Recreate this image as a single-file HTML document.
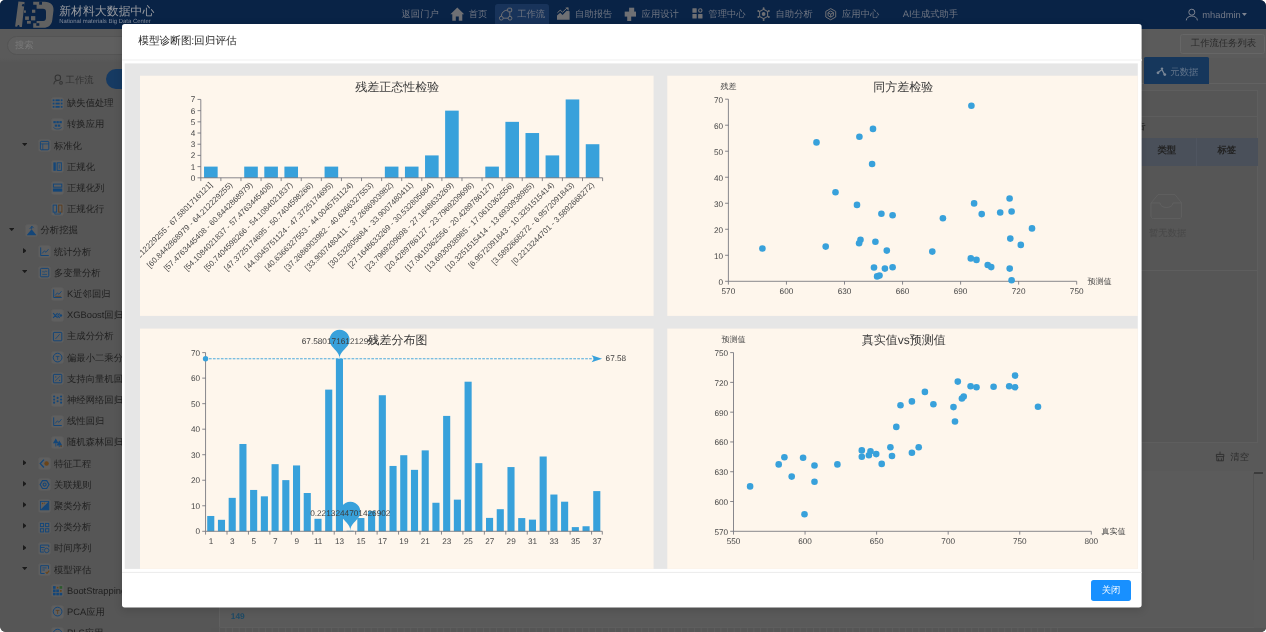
<!DOCTYPE html><html><head><meta charset="utf-8"><title>page</title><style>
html,body{margin:0;padding:0;background:#fff;}
body{width:1266px;height:632px;overflow:hidden;font-family:"Liberation Sans",sans-serif;text-rendering:geometricPrecision;}
#w{position:absolute;left:0;top:0;width:1266px;height:632px;overflow:hidden;border-radius:5px 6px 5px 6px;background:#595959;will-change:transform;}
.a{position:absolute;white-space:nowrap;}
.hd{position:absolute;left:0;top:0;width:1266px;height:28.8px;background:#092346;}
.nv{position:absolute;top:8px;height:13px;line-height:13px;font-size:9.33px;color:#6e7481;white-space:nowrap;}
.l0{letter-spacing:0;}
.tr{position:absolute;height:13px;line-height:13px;font-size:9.33px;color:#1f1f1f;white-space:nowrap;}
.ar{position:absolute;width:0;height:0;}
.ard{border-left:2.65px solid transparent;border-right:2.65px solid transparent;border-top:3.2px solid #1b1b1b;}
.arr{border-top:2.75px solid transparent;border-bottom:2.75px solid transparent;border-left:3.5px solid #1b1b1b;}
.ic{position:absolute;width:11.2px;height:11.2px;background:#5f5f5f;border-radius:1.5px;box-shadow:0 0 0 0.7px #5d5d5d;}
</style></head><body><div id="w">
<div class="hd"></div>
<svg class="a" style="left:0;top:0" width="60" height="29" viewBox="0 0 60 29">
<g fill="#616161">
<path d="M18.4 1.4 L24.6 2.1 L21.9 27 L19.6 26.9 C19.6 24.4 17.4 24.4 17.2 26.8 L15.1 26.6 Z"/>
<path fill-rule="evenodd" d="M33.2 1.7 H44.5 C51 1.7 54 5.6 53.5 10.5 L52.3 20 C51.6 25.4 48 27.8 43.6 27.8 H33.2 V23.2 H36.6 V20.9 H43.2 C45.2 20.9 46 19.6 46 17.5 V12 C46 9.8 45 8.8 43 8.8 H36.6 V4.7 H33.2 Z"/>
<rect x="23.9" y="10.4" width="2" height="2.4"/><rect x="25.1" y="16.4" width="3.8" height="3.5"/><rect x="27" y="20.9" width="3.8" height="2.8"/>
<rect x="32" y="9.7" width="3.3" height="3.1"/><rect x="31" y="16.1" width="4.3" height="4.3"/>
</g>
<rect x="39.2" y="1.7" width="2.8" height="3" fill="#092346"/><rect x="36.3" y="23.2" width="3" height="2.6" fill="#092346"/>
<circle cx="23.3" cy="5.2" r="1.3" fill="#092346"/>
</svg>
<div class="a" style="left:59.2px;top:4px;font-size:11.9px;line-height:15px;color:#999ba0;">新材料大数据中心</div>
<div class="a" style="left:59.3px;top:18.6px;font-size:5.95px;line-height:7px;color:#828b9b;">National materials Big Data Center</div>
<div class="nv" style="left:401.5px">返回门户</div>
<div class="nv" style="left:468.7px">首页</div>
<div class="a" style="left:495.4px;top:4.3px;width:53.4px;height:26px;border-radius:2.7px;background:#18335a;"></div>
<div class="nv" style="left:517.2px">工作流</div>
<div class="nv" style="left:575.1px">自助报告</div>
<div class="nv" style="left:641.6px">应用设计</div>
<div class="nv" style="left:708.3px">管理中心</div>
<div class="nv" style="left:775.5px">自助分析</div>
<div class="nv" style="left:842px">应用中心</div>
<div class="nv" style="left:902.7px"><span class="l0">AI</span>生成式助手</div>
<div class="nv" style="left:1202.3px;top:8.6px;color:#737987;letter-spacing:0">mhadmin</div>
<svg class="a" style="left:0;top:0" width="1266" height="29" viewBox="0 0 1266 29" fill="none" stroke="none">
<path d="M450.4 14.2 L457.3 7.6 L464.2 14.2 L462.3 14.2 L462.3 20.7 L458.8 20.7 L458.8 16.4 L455.8 16.4 L455.8 20.7 L452.3 20.7 L452.3 14.2 Z" fill="#6f7074"/>
<g stroke="#6f7074" stroke-width="1" fill="none"><rect x="507.7" y="8.2" width="4" height="3.6" rx="0.8"/><circle cx="501.3" cy="18.2" r="1.9"/><circle cx="510" cy="18.2" r="1.9"/><path d="M501.3 16.3 C501.5 12.5 504 10.2 507.7 10"/><path d="M503.2 18.2 H508.1 M509.8 11.8 V16.3"/></g>
<path d="M557 19.7 V15.6 L560.2 12.8 L562.6 15 L566.6 10.8 L569.6 11.2 V19.7 Z" fill="#6f7074"/><path d="M557.4 12.8 L560.2 10.2 L562.6 12.2 L567.4 7.6" stroke="#6f7074" stroke-width="1" fill="none"/><path d="M565.4 7.6 H568.6 V10.8 Z" fill="#6f7074"/>
<g fill="#6f7074"><rect x="629.1" y="7.7" width="5.1" height="4.6"/><rect x="624.7" y="11.6" width="11.3" height="5"/><rect x="627.2" y="16" width="4" height="5"/></g>
<g fill="#6f7074"><rect x="692.4" y="8.3" width="4.3" height="4.5" rx="0.5"/><rect x="692.4" y="14.1" width="4.3" height="4.4" rx="0.5"/><rect x="698.1" y="14.1" width="4.4" height="4.4" rx="0.5"/></g><circle cx="700.3" cy="10.5" r="1.7" fill="none" stroke="#6f7074" stroke-width="1.1"/>
<g stroke="#6f7074" stroke-width="1.1" fill="none"><path d="M763.6 9.3 L767.6 11.6 V16.4 L763.6 18.7 L759.6 16.4 V11.6 Z"/></g><circle cx="763.6" cy="14" r="1.9" fill="#6f7074"/><circle cx="763.6" cy="8.2" r="1" fill="#6f7074"/><circle cx="763.6" cy="19.9" r="1" fill="#6f7074"/><circle cx="758.4" cy="11" r="1" fill="#6f7074"/><circle cx="768.8" cy="11" r="1" fill="#6f7074"/><circle cx="758.4" cy="17" r="1" fill="#6f7074"/><circle cx="768.8" cy="17" r="1" fill="#6f7074"/>
<g stroke="#6f7074" stroke-width="1" fill="none"><path d="M830.7 8.6 L835.7 11.4 V17 L830.7 19.8 L825.8 17 V11.4 Z"/><path d="M830.7 11 L833.4 12.6 V15.6 L830.7 17.2 L828 15.6 V12.6 Z M830.7 14.2 V17.2 M828 12.6 L830.7 14.2 L833.4 12.6"/></g>
<g stroke="#7d8390" stroke-width="1" fill="none"><circle cx="1191.8" cy="12.2" r="3"/><path d="M1186.3 20.4 C1186.6 14.6 1197 14.6 1197.4 20.4"/></g>
<path d="M1241.9 12.9 H1246.9 L1244.4 16 Z" fill="#7d8390"/>
</svg>
<div class="a" style="left:0;top:28.8px;width:211px;height:31.2px;background:#5a5a5a;"></div>
<div class="a" style="left:7px;top:35.6px;width:160px;height:19px;border-radius:9.5px;background:#5f5f5f;border:0.8px solid #545454;box-sizing:border-box"></div>
<div class="a" style="left:15px;top:38.6px;font-size:9.33px;line-height:13px;color:#7b7b7b;">搜索</div>
<div class="a" style="left:0;top:58px;width:211px;height:36.6px;background:linear-gradient(#5a5a5a 0,#565656 4.5px);box-sizing:border-box"></div>
<div class="a" style="left:0;top:94.6px;width:210.8px;height:540px;background:#565656;border-right:1px solid #5c5c5c"></div>
<div class="a" style="left:65.6px;top:73.6px;font-size:9.33px;line-height:13px;color:#323232;">工作流</div>
<svg class="a" style="left:53.4px;top:73.8px" width="11.6" height="11.6" viewBox="0 0 11 11" fill="none" stroke="#343434" stroke-width="1"><circle cx="4.6" cy="3.6" r="2.6"/><path d="M0.8 9.8 C1 6.6 3.6 6.2 4.6 6.2"/><circle cx="7.6" cy="8.4" r="1.3"/></svg>
<div class="a" style="left:105.8px;top:68.7px;width:60px;height:20.2px;border-radius:10.1px;background:#163a62;"></div>
<div class="tr" style="left:67.0px;top:97.1px">缺失值处理</div>
<svg class="ic" style="left:52.1px;top:97.5px" viewBox="0 0 16 16" fill="none" stroke="#134679" stroke-width="1.4"><g fill="#134679" stroke="none"><rect x="1" y="2" width="2.5" height="2.5"/><rect x="5" y="2" width="6" height="2.5"/><rect x="12.5" y="2" width="2.5" height="2.5"/><rect x="1" y="6.7" width="2.5" height="2.5"/><rect x="5" y="6.7" width="6" height="2.5"/><rect x="12.5" y="6.7" width="2.5" height="2.5"/><rect x="1" y="11.4" width="2.5" height="2.5"/><rect x="5" y="11.4" width="6" height="2.5"/><rect x="12.5" y="11.4" width="2.5" height="2.5"/></g></svg>
<div class="tr" style="left:67.0px;top:118.3px">转换应用</div>
<svg class="ic" style="left:52.1px;top:118.7px" viewBox="0 0 16 16" fill="none" stroke="#134679" stroke-width="1.4"><g fill="#134679" stroke="none"><rect x="2" y="3" width="3.4" height="3"/><rect x="6.3" y="3" width="3.4" height="3"/><rect x="10.6" y="3" width="3.4" height="3"/><rect x="4" y="8" width="3.4" height="3"/><rect x="8.4" y="8" width="3.4" height="3"/></g><path d="M2 12 C5 15 11 15 14 12" stroke-width="1.1"/></svg>
<div class="tr" style="left:53.9px;top:139.51px">标准化</div>
<svg class="ic" style="left:38.8px;top:139.91px" viewBox="0 0 16 16" fill="none" stroke="#134679" stroke-width="1.4"><rect x="2" y="2" width="12" height="12" rx="1.2"/><path d="M2 5.6 H14 M5.4 5.6 V14" stroke-width="1.1"/></svg>
<svg class="a" style="left:22.0px;top:142.91px" width="5.4" height="3.2" viewBox="0 0 5.4 3.2"><path d="M0 0 H5.4 L2.7 3.2 Z" fill="#1b1b1b"/></svg>
<div class="tr" style="left:67.0px;top:160.71px">正规化</div>
<svg class="ic" style="left:52.1px;top:161.11px" viewBox="0 0 16 16" fill="none" stroke="#134679" stroke-width="1.4"><rect x="2" y="2" width="3.4" height="12" fill="#134679" stroke="none"/><rect x="7.4" y="2.6" width="6" height="10.8"/><path d="M10.4 5 V11" stroke-width="1.1"/></svg>
<div class="tr" style="left:67.0px;top:181.92px">正规化列</div>
<svg class="ic" style="left:52.1px;top:182.32px" viewBox="0 0 16 16" fill="none" stroke="#134679" stroke-width="1.4"><rect x="2" y="3" width="12" height="4.4"/><rect x="2" y="10" width="12" height="3" fill="#134679"/></svg>
<div class="tr" style="left:67.0px;top:203.12px">正规化行</div>
<svg class="ic" style="left:52.1px;top:203.52px" viewBox="0 0 16 16" fill="none" stroke="#134679" stroke-width="1.4"><rect x="1.6" y="1.6" width="5" height="10"/><rect x="9.6" y="1.6" width="4.6" height="10" stroke="#5c3d1e"/><path d="M4 11.6 V14.4 H12 V11.6" stroke-width="1.1"/></svg>
<div class="tr" style="left:40.5px;top:224.32px">分析挖掘</div>
<svg class="ic" style="left:25.5px;top:224.72px" viewBox="0 0 16 16" fill="none" stroke="#134679" stroke-width="1.4"><path d="M8 6 L15 14.6 H1 Z" fill="#134679" stroke="none"/><path d="M5.4 5.6 L8.4 1.8 L10.8 4.4 M8.4 1.8 L8 6" stroke-width="1.3"/></svg>
<svg class="a" style="left:8.7px;top:227.72px" width="5.4" height="3.2" viewBox="0 0 5.4 3.2"><path d="M0 0 H5.4 L2.7 3.2 Z" fill="#1b1b1b"/></svg>
<div class="tr" style="left:53.9px;top:245.53px">统计分析</div>
<svg class="ic" style="left:38.8px;top:245.93px" viewBox="0 0 16 16" fill="none" stroke="#134679" stroke-width="1.4"><path d="M2.4 2 V13.6 H14"/><path d="M4.6 10.6 L7.6 7 L10 9 L13.6 4.6" stroke-width="1.2"/></svg>
<svg class="a" style="left:22.8px;top:247.73px" width="3.6" height="5.6" viewBox="0 0 3.6 5.6"><path d="M0 0 V5.6 L3.6 2.8 Z" fill="#1b1b1b"/></svg>
<div class="tr" style="left:53.9px;top:266.73px">多变量分析</div>
<svg class="ic" style="left:38.8px;top:267.13px" viewBox="0 0 16 16" fill="none" stroke="#134679" stroke-width="1.4"><rect x="2" y="2" width="12" height="12" rx="1.4"/><path d="M4.6 7 C6 5.4 7 8.4 8.4 6.8 S10.4 5.6 11.6 7 M4.6 10.6 H11.4" stroke-width="1.1"/></svg>
<svg class="a" style="left:22.0px;top:270.13px" width="5.4" height="3.2" viewBox="0 0 5.4 3.2"><path d="M0 0 H5.4 L2.7 3.2 Z" fill="#1b1b1b"/></svg>
<div class="tr" style="left:67.0px;top:287.94px"><span class="l0">K</span>近邻回归</div>
<svg class="ic" style="left:52.1px;top:288.34px" viewBox="0 0 16 16" fill="none" stroke="#134679" stroke-width="1.4"><path d="M2.4 2 V13.6 H14"/><path d="M4.6 10.6 L7.6 7 L10 9 L13.6 4.6" stroke-width="1.2"/><path d="M4.6 12 L13 12" stroke="#5c3d1e" stroke-width="1"/></svg>
<div class="tr" style="left:67.0px;top:309.14px"><span class="l0">XGBoost</span>回归</div>
<svg class="ic" style="left:52.1px;top:309.54px" viewBox="0 0 16 16" fill="none" stroke="#134679" stroke-width="1.4"><path d="M1.6 4.6 L8 11.4 M1.6 11.4 L8 4.6 M8 8 L11 4.8 M8 8 L11 11.2" stroke-width="1.5"/><circle cx="12.6" cy="8" r="1.8" fill="#134679" stroke="none"/></svg>
<div class="tr" style="left:67.0px;top:330.34px">主成分分析</div>
<svg class="ic" style="left:52.1px;top:330.74px" viewBox="0 0 16 16" fill="none" stroke="#134679" stroke-width="1.4"><rect x="2" y="2" width="12" height="12" rx="1"/><path d="M5 11.4 L11 4.6" stroke-width="1.2"/></svg>
<div class="tr" style="left:67.0px;top:351.55px">偏最小二乘分析</div>
<svg class="ic" style="left:52.1px;top:351.95px" viewBox="0 0 16 16" fill="none" stroke="#134679" stroke-width="1.4"><circle cx="8" cy="8" r="6.2"/><path d="M5.4 6.4 H10.6 M8 6.4 V11.4" stroke-width="1.1"/></svg>
<div class="tr" style="left:67.0px;top:372.75px">支持向量机回归</div>
<svg class="ic" style="left:52.1px;top:373.15px" viewBox="0 0 16 16" fill="none" stroke="#134679" stroke-width="1.4"><rect x="2" y="2" width="12" height="12" rx="1"/><path d="M4.4 11.6 L11.6 4.4" stroke-width="1"/><circle cx="5.4" cy="5.6" r="0.9" fill="#134679" stroke="none"/><circle cx="10.8" cy="10.6" r="0.9" fill="#134679" stroke="none"/></svg>
<div class="tr" style="left:67.0px;top:393.96px">神经网络回归</div>
<svg class="ic" style="left:52.1px;top:394.36px" viewBox="0 0 16 16" fill="none" stroke="#134679" stroke-width="1.4"><g fill="#134679" stroke="none"><circle cx="3" cy="3.6" r="1.5"/><circle cx="3" cy="8" r="1.5"/><circle cx="3" cy="12.4" r="1.5"/><circle cx="8" cy="5.6" r="1.5"/><circle cx="8" cy="10.4" r="1.5"/><circle cx="13" cy="3.6" r="1.5"/><circle cx="13" cy="8" r="1.5"/><circle cx="13" cy="12.4" r="1.5"/></g></svg>
<div class="tr" style="left:67.0px;top:415.16px">线性回归</div>
<svg class="ic" style="left:52.1px;top:415.56px" viewBox="0 0 16 16" fill="none" stroke="#134679" stroke-width="1.4"><path d="M2.4 2 V13.6 H14"/><path d="M4.6 10.6 L7.6 7 L10 9 L13.6 4.6" stroke-width="1.2"/></svg>
<div class="tr" style="left:67.0px;top:436.36px">随机森林回归</div>
<svg class="ic" style="left:52.1px;top:436.76px" viewBox="0 0 16 16" fill="none" stroke="#134679" stroke-width="1.4"><path d="M5.4 2 L9.4 9 H1.4 Z M10.4 5 L14.6 12 H6.6 Z" fill="#134679" stroke="none"/><path d="M5.4 9 V13.6 M10.4 12 V14.4" stroke-width="1.2"/><circle cx="13" cy="13" r="1.2" fill="#5c3d1e" stroke="none"/></svg>
<div class="tr" style="left:53.9px;top:457.57px">特征工程</div>
<svg class="ic" style="left:38.8px;top:457.97px" viewBox="0 0 16 16" fill="none" stroke="#134679" stroke-width="1.4"><path d="M7 2.4 L1.8 8 L7 13.6" stroke-width="1.8"/><circle cx="10.8" cy="8" r="3.2" fill="#6a4418" stroke="none"/></svg>
<svg class="a" style="left:22.8px;top:459.77px" width="3.6" height="5.6" viewBox="0 0 3.6 5.6"><path d="M0 0 V5.6 L3.6 2.8 Z" fill="#1b1b1b"/></svg>
<div class="tr" style="left:53.9px;top:478.77px">关联规则</div>
<svg class="ic" style="left:38.8px;top:479.17px" viewBox="0 0 16 16" fill="none" stroke="#134679" stroke-width="1.4"><circle cx="8" cy="8" r="2.2" stroke-width="1.6"/><path d="M5 2.4 H11 L14.4 8 L11 13.6 H5 L1.6 8 Z" stroke-width="1.6"/></svg>
<svg class="a" style="left:22.8px;top:480.97px" width="3.6" height="5.6" viewBox="0 0 3.6 5.6"><path d="M0 0 V5.6 L3.6 2.8 Z" fill="#1b1b1b"/></svg>
<div class="tr" style="left:53.9px;top:499.98px">聚类分析</div>
<svg class="ic" style="left:38.8px;top:500.38px" viewBox="0 0 16 16" fill="none" stroke="#134679" stroke-width="1.4"><rect x="2" y="2" width="12" height="12" stroke-width="1.3"/><path d="M14 2 V14 H2 Z" fill="#134679" stroke="none"/><circle cx="5.2" cy="5" r="1" fill="#6a4418" stroke="none"/><circle cx="8" cy="4.4" r="0.8" fill="#6a4418" stroke="none"/></svg>
<svg class="a" style="left:22.8px;top:502.18px" width="3.6" height="5.6" viewBox="0 0 3.6 5.6"><path d="M0 0 V5.6 L3.6 2.8 Z" fill="#1b1b1b"/></svg>
<div class="tr" style="left:53.9px;top:521.18px">分类分析</div>
<svg class="ic" style="left:38.8px;top:521.58px" viewBox="0 0 16 16" fill="none" stroke="#134679" stroke-width="1.4"><rect x="2" y="2" width="4.6" height="4.6"/><rect x="9.4" y="2" width="4.6" height="4.6"/><rect x="2" y="9.6" width="4.6" height="4.6"/><rect x="9.4" y="9.6" width="4.6" height="4.6"/></svg>
<svg class="a" style="left:22.8px;top:523.38px" width="3.6" height="5.6" viewBox="0 0 3.6 5.6"><path d="M0 0 V5.6 L3.6 2.8 Z" fill="#1b1b1b"/></svg>
<div class="tr" style="left:53.9px;top:542.38px">时间序列</div>
<svg class="ic" style="left:38.8px;top:542.78px" viewBox="0 0 16 16" fill="none" stroke="#134679" stroke-width="1.4"><path d="M2 3 H14 V6 M2 3 V13 H7 M2 6.4 H8"/><circle cx="11" cy="10.6" r="3.2" stroke-width="1.2"/><path d="M4 9.6 H6.6" stroke-width="1.1"/></svg>
<svg class="a" style="left:22.8px;top:544.58px" width="3.6" height="5.6" viewBox="0 0 3.6 5.6"><path d="M0 0 V5.6 L3.6 2.8 Z" fill="#1b1b1b"/></svg>
<div class="tr" style="left:53.9px;top:563.59px">模型评估</div>
<svg class="ic" style="left:38.8px;top:563.99px" viewBox="0 0 16 16" fill="none" stroke="#134679" stroke-width="1.4"><path d="M13.6 7 V2.4 H2.4 V13.6 H8"/><path d="M4.8 5.6 H11 M4.8 8.6 H8.4" stroke-width="1.2"/><path d="M9.6 11.6 L11.4 13.4 L14.6 9.6" stroke="#6a4418" stroke-width="1.5"/></svg>
<svg class="a" style="left:22.0px;top:566.99px" width="5.4" height="3.2" viewBox="0 0 5.4 3.2"><path d="M0 0 H5.4 L2.7 3.2 Z" fill="#1b1b1b"/></svg>
<div class="tr" style="left:67.0px;top:584.79px"><span class="l0">BootStrapping</span></div>
<svg class="ic" style="left:52.1px;top:585.19px" viewBox="0 0 16 16" fill="none" stroke="#134679" stroke-width="1.4"><g stroke="none"><rect x="1.4" y="1.6" width="3.8" height="3.8" fill="#134679"/><rect x="6.8" y="2.6" width="2.4" height="2.4" fill="#6a4418"/><rect x="10.8" y="1.6" width="3.8" height="3.8" fill="#2c5a2c"/><rect x="1.4" y="6.4" width="3.8" height="3.8" fill="#134679"/><rect x="6.1" y="6.4" width="3.8" height="3.8" fill="#134679"/><rect x="11.4" y="7.2" width="2.4" height="2.4" fill="#6a4418"/><rect x="1.4" y="11.2" width="3.8" height="3.6" fill="#134679"/><rect x="6.1" y="11.2" width="3.8" height="3.6" fill="#134679"/><rect x="10.8" y="11.2" width="3.8" height="3.6" fill="#134679"/></g></svg>
<div class="tr" style="left:67.0px;top:606.0px"><span class="l0">PCA</span>应用</div>
<svg class="ic" style="left:52.1px;top:606.4px" viewBox="0 0 16 16" fill="none" stroke="#134679" stroke-width="1.4"><circle cx="8" cy="8" r="6.2"/><path d="M5.4 6.4 H10.6 M8 6.4 V11.4" stroke-width="1.1" stroke="#5c3d1e"/></svg>
<div class="tr" style="left:67.0px;top:627.2px"><span class="l0">PLS</span>应用</div>
<svg class="ic" style="left:52.1px;top:627.6px" viewBox="0 0 16 16" fill="none" stroke="#134679" stroke-width="1.4"><circle cx="8" cy="8" r="6.2"/><path d="M5.4 6.4 H10.6 M8 6.4 V11.4" stroke-width="1.1"/></svg>
<div class="a" style="left:211px;top:28.8px;width:1055px;height:28.8px;background:#5b5b5b;"></div>
<div class="a" style="left:1180.4px;top:34.2px;width:84.4px;height:19.4px;border:0.8px solid #666;border-radius:2.6px;box-sizing:border-box;background:#5c5c5c;"></div>
<div class="a" style="left:1190.8px;top:37.4px;font-size:9.33px;line-height:13px;color:#2a2a2a;">工作流任务列表</div>
<div class="a" style="left:1140px;top:83px;width:126px;height:0.8px;background:#626262;"></div>
<div class="a" style="left:1144.2px;top:57.3px;width:64.9px;height:26.4px;border-radius:1.6px 1.6px 0 0;background:#16375c;"></div>
<div class="a" style="left:1170.3px;top:65.6px;font-size:9.33px;line-height:13px;color:#64768c;">元数据</div>
<svg class="a" style="left:1155.5px;top:66px" width="12" height="11" viewBox="0 0 12 11"><g fill="#7a8797" stroke="#7a8797" stroke-width="1.2"><path d="M2 6.6 L6 3.6 L8.6 8.6" fill="none"/><circle cx="6" cy="2.6" r="1.2" stroke="none"/><circle cx="2" cy="6.8" r="1.4" stroke="none"/><circle cx="8.8" cy="8.6" r="1.4" stroke="none"/></g></svg>
<div class="a" style="left:1130px;top:90.3px;width:127.7px;height:352.8px;border:0.8px solid #5e5e5e;box-sizing:border-box;background:#565656;"></div>
<div class="a" style="left:1130px;top:116.4px;width:127.7px;height:0.8px;background:#5d5d5d;"></div>
<div class="a" style="left:1130px;top:137.7px;width:127.7px;height:27.9px;background:#4a505a;"></div>
<div class="a" style="left:1195.9px;top:137.7px;width:0.8px;height:27.9px;background:#4f5560;"></div>
<div class="a" style="left:1136.8px;top:144.2px;width:60px;text-align:center;font-size:9.33px;font-weight:bold;line-height:13px;color:#232323;">类型</div>
<div class="a" style="left:1196.8px;top:144.2px;width:60px;text-align:center;font-size:9.33px;font-weight:bold;line-height:13px;color:#232323;">标签</div>
<div class="a" style="left:1130px;top:269.5px;width:127.7px;height:0.8px;background:#5e5e5e;"></div>
<svg class="a" style="left:1150px;top:193px" width="33" height="27" viewBox="0 0 33 27" fill="none" stroke="#626262" stroke-width="0.8"><path d="M1 10 L8 1.6 H25 L31.6 10 V23 C31.6 24.6 30.6 25.6 29 25.6 H3.6 C2 25.6 1 24.6 1 23 Z"/><path d="M1 10 H10 C10 16 23 16 23 10 H31.6"/></svg>
<div class="a" style="left:1149px;top:226.6px;font-size:9.33px;line-height:13px;color:#474747;">暂无数据</div>
<div class="a" style="left:1127px;top:120.2px;font-size:9.2px;font-weight:bold;line-height:13px;color:#2a2a2a;">报告</div>
<div class="a" style="left:1230.3px;top:450.6px;font-size:9.33px;line-height:13px;color:#2d2d2d;">清空</div>
<svg class="a" style="left:1215px;top:451px" width="11" height="11" viewBox="0 0 11 11" fill="none" stroke="#2d2d2d" stroke-width="0.9"><path d="M5 0.6 V3.4 M1.4 3.4 H8.8 V5.6 H1.4 Z M1.8 5.6 V9.8 H8.4 V5.6 M3.6 7.4 V9.8 M6.4 7.4 V9.8"/></svg>
<div class="a" style="left:211px;top:470.6px;width:1055px;height:162px;background:#5b5b5b;"></div>
<div class="a" style="left:1253.7px;top:472.4px;width:9.2px;height:1.4px;background:#3c3c3c;"></div>
<div class="a" style="left:1253.4px;top:473px;width:0.8px;height:150px;background:#535353;"></div>
<div class="a" style="left:211px;top:94px;width:8px;height:540px;background:#565656;"></div>
<div class="a" style="left:219px;top:560px;width:1034.6px;height:67.8px;border-left:0.8px solid #606060;border-bottom:0.8px solid #5e5e5e;border-radius:0 0 0 2.6px;box-sizing:border-box;background:#5a5a5a;"></div>
<div class="a" style="left:230.8px;top:609.8px;font-size:8.4px;font-weight:bold;line-height:13px;color:#1d4a66;">149</div>
<div class="a" style="left:211px;top:628px;width:1055px;height:4px;background:#555;"></div>
<svg class="a" style="left:0;top:628.4px" width="1266" height="4"><rect x="219.0" y="0" width="0.7" height="4" fill="#616161"/><rect x="225.6" y="0" width="0.7" height="4" fill="#616161"/><rect x="232.2" y="0" width="0.7" height="4" fill="#616161"/><rect x="238.8" y="0" width="0.7" height="4" fill="#616161"/><rect x="245.4" y="0" width="0.7" height="4" fill="#616161"/><rect x="252.0" y="0" width="0.7" height="4" fill="#616161"/><rect x="258.6" y="0" width="0.7" height="4" fill="#616161"/><rect x="265.2" y="0" width="0.7" height="4" fill="#616161"/><rect x="271.8" y="0" width="0.7" height="4" fill="#616161"/><rect x="278.4" y="0" width="0.7" height="4" fill="#616161"/><rect x="285.0" y="0" width="0.7" height="4" fill="#616161"/><rect x="291.6" y="0" width="0.7" height="4" fill="#616161"/><rect x="298.2" y="0" width="0.7" height="4" fill="#616161"/><rect x="304.8" y="0" width="0.7" height="4" fill="#616161"/><rect x="311.4" y="0" width="0.7" height="4" fill="#616161"/><rect x="318.0" y="0" width="0.7" height="4" fill="#616161"/><rect x="324.6" y="0" width="0.7" height="4" fill="#616161"/><rect x="331.2" y="0" width="0.7" height="4" fill="#616161"/><rect x="337.8" y="0" width="0.7" height="4" fill="#616161"/><rect x="344.4" y="0" width="0.7" height="4" fill="#616161"/><rect x="351.0" y="0" width="0.7" height="4" fill="#616161"/><rect x="357.6" y="0" width="0.7" height="4" fill="#616161"/><rect x="364.2" y="0" width="0.7" height="4" fill="#616161"/><rect x="370.8" y="0" width="0.7" height="4" fill="#616161"/><rect x="377.4" y="0" width="0.7" height="4" fill="#616161"/><rect x="384.0" y="0" width="0.7" height="4" fill="#616161"/><rect x="390.6" y="0" width="0.7" height="4" fill="#616161"/><rect x="397.2" y="0" width="0.7" height="4" fill="#616161"/><rect x="403.8" y="0" width="0.7" height="4" fill="#616161"/><rect x="410.4" y="0" width="0.7" height="4" fill="#616161"/><rect x="417.0" y="0" width="0.7" height="4" fill="#616161"/><rect x="423.6" y="0" width="0.7" height="4" fill="#616161"/><rect x="430.2" y="0" width="0.7" height="4" fill="#616161"/><rect x="436.8" y="0" width="0.7" height="4" fill="#616161"/><rect x="443.4" y="0" width="0.7" height="4" fill="#616161"/><rect x="450.0" y="0" width="0.7" height="4" fill="#616161"/><rect x="456.6" y="0" width="0.7" height="4" fill="#616161"/><rect x="463.2" y="0" width="0.7" height="4" fill="#616161"/><rect x="469.8" y="0" width="0.7" height="4" fill="#616161"/><rect x="476.4" y="0" width="0.7" height="4" fill="#616161"/><rect x="483.0" y="0" width="0.7" height="4" fill="#616161"/><rect x="489.6" y="0" width="0.7" height="4" fill="#616161"/><rect x="496.2" y="0" width="0.7" height="4" fill="#616161"/><rect x="502.8" y="0" width="0.7" height="4" fill="#616161"/><rect x="509.4" y="0" width="0.7" height="4" fill="#616161"/><rect x="516.0" y="0" width="0.7" height="4" fill="#616161"/><rect x="522.6" y="0" width="0.7" height="4" fill="#616161"/><rect x="529.2" y="0" width="0.7" height="4" fill="#616161"/><rect x="535.8" y="0" width="0.7" height="4" fill="#616161"/><rect x="542.4" y="0" width="0.7" height="4" fill="#616161"/><rect x="549.0" y="0" width="0.7" height="4" fill="#616161"/><rect x="555.6" y="0" width="0.7" height="4" fill="#616161"/><rect x="562.2" y="0" width="0.7" height="4" fill="#616161"/><rect x="568.8" y="0" width="0.7" height="4" fill="#616161"/><rect x="575.4" y="0" width="0.7" height="4" fill="#616161"/><rect x="582.0" y="0" width="0.7" height="4" fill="#616161"/><rect x="588.6" y="0" width="0.7" height="4" fill="#616161"/><rect x="595.2" y="0" width="0.7" height="4" fill="#616161"/><rect x="601.8" y="0" width="0.7" height="4" fill="#616161"/><rect x="608.4" y="0" width="0.7" height="4" fill="#616161"/><rect x="615.0" y="0" width="0.7" height="4" fill="#616161"/><rect x="621.6" y="0" width="0.7" height="4" fill="#616161"/><rect x="628.2" y="0" width="0.7" height="4" fill="#616161"/><rect x="634.8" y="0" width="0.7" height="4" fill="#616161"/><rect x="641.4" y="0" width="0.7" height="4" fill="#616161"/><rect x="648.0" y="0" width="0.7" height="4" fill="#616161"/><rect x="654.6" y="0" width="0.7" height="4" fill="#616161"/><rect x="661.2" y="0" width="0.7" height="4" fill="#616161"/><rect x="667.8" y="0" width="0.7" height="4" fill="#616161"/><rect x="674.4" y="0" width="0.7" height="4" fill="#616161"/><rect x="681.0" y="0" width="0.7" height="4" fill="#616161"/><rect x="687.6" y="0" width="0.7" height="4" fill="#616161"/><rect x="694.2" y="0" width="0.7" height="4" fill="#616161"/><rect x="700.8" y="0" width="0.7" height="4" fill="#616161"/><rect x="707.4" y="0" width="0.7" height="4" fill="#616161"/><rect x="714.0" y="0" width="0.7" height="4" fill="#616161"/><rect x="720.6" y="0" width="0.7" height="4" fill="#616161"/><rect x="727.2" y="0" width="0.7" height="4" fill="#616161"/><rect x="733.8" y="0" width="0.7" height="4" fill="#616161"/><rect x="740.4" y="0" width="0.7" height="4" fill="#616161"/><rect x="747.0" y="0" width="0.7" height="4" fill="#616161"/><rect x="753.6" y="0" width="0.7" height="4" fill="#616161"/><rect x="760.2" y="0" width="0.7" height="4" fill="#616161"/><rect x="766.8" y="0" width="0.7" height="4" fill="#616161"/><rect x="773.4" y="0" width="0.7" height="4" fill="#616161"/><rect x="780.0" y="0" width="0.7" height="4" fill="#616161"/><rect x="786.6" y="0" width="0.7" height="4" fill="#616161"/><rect x="793.2" y="0" width="0.7" height="4" fill="#616161"/><rect x="799.8" y="0" width="0.7" height="4" fill="#616161"/><rect x="806.4" y="0" width="0.7" height="4" fill="#616161"/><rect x="813.0" y="0" width="0.7" height="4" fill="#616161"/><rect x="819.6" y="0" width="0.7" height="4" fill="#616161"/><rect x="826.2" y="0" width="0.7" height="4" fill="#616161"/><rect x="832.8" y="0" width="0.7" height="4" fill="#616161"/><rect x="839.4" y="0" width="0.7" height="4" fill="#616161"/><rect x="846.0" y="0" width="0.7" height="4" fill="#616161"/><rect x="852.6" y="0" width="0.7" height="4" fill="#616161"/><rect x="859.2" y="0" width="0.7" height="4" fill="#616161"/><rect x="865.8" y="0" width="0.7" height="4" fill="#616161"/><rect x="872.4" y="0" width="0.7" height="4" fill="#616161"/><rect x="879.0" y="0" width="0.7" height="4" fill="#616161"/><rect x="885.6" y="0" width="0.7" height="4" fill="#616161"/><rect x="892.2" y="0" width="0.7" height="4" fill="#616161"/><rect x="898.8" y="0" width="0.7" height="4" fill="#616161"/><rect x="905.4" y="0" width="0.7" height="4" fill="#616161"/><rect x="912.0" y="0" width="0.7" height="4" fill="#616161"/><rect x="918.6" y="0" width="0.7" height="4" fill="#616161"/><rect x="925.2" y="0" width="0.7" height="4" fill="#616161"/><rect x="931.8" y="0" width="0.7" height="4" fill="#616161"/><rect x="938.4" y="0" width="0.7" height="4" fill="#616161"/><rect x="945.0" y="0" width="0.7" height="4" fill="#616161"/><rect x="951.6" y="0" width="0.7" height="4" fill="#616161"/><rect x="958.2" y="0" width="0.7" height="4" fill="#616161"/><rect x="964.8" y="0" width="0.7" height="4" fill="#616161"/><rect x="971.4" y="0" width="0.7" height="4" fill="#616161"/><rect x="978.0" y="0" width="0.7" height="4" fill="#616161"/><rect x="984.6" y="0" width="0.7" height="4" fill="#616161"/><rect x="991.2" y="0" width="0.7" height="4" fill="#616161"/><rect x="997.8" y="0" width="0.7" height="4" fill="#616161"/><rect x="1004.4" y="0" width="0.7" height="4" fill="#616161"/><rect x="1011.0" y="0" width="0.7" height="4" fill="#616161"/><rect x="1017.6" y="0" width="0.7" height="4" fill="#616161"/><rect x="1024.2" y="0" width="0.7" height="4" fill="#616161"/><rect x="1030.8" y="0" width="0.7" height="4" fill="#616161"/><rect x="1037.4" y="0" width="0.7" height="4" fill="#616161"/><rect x="1044.0" y="0" width="0.7" height="4" fill="#616161"/><rect x="1050.6" y="0" width="0.7" height="4" fill="#616161"/><rect x="1057.2" y="0" width="0.7" height="4" fill="#616161"/></svg>
<div class="a" style="left:122px;top:24px;width:1019.6px;height:583.4px;border-radius:2.7px;box-shadow:0 2.67px 8px rgba(0,0,0,.15);"></div>
<svg width="1266" height="632" viewBox="0 0 1266 632" style="position:absolute;left:0;top:0" text-rendering="geometricPrecision" font-family='"Liberation Sans", sans-serif'>
<rect x="122" y="24" width="1019.6" height="583.4" rx="2.7" fill="#fff"/>
<rect x="122" y="59.0" width="1019.6" height="2" fill="#f7f7f7"/>
<rect x="122" y="571.9" width="1019.6" height="1" fill="#ececec"/>
<rect x="124.7" y="63.4" width="1013.1" height="505.5" fill="#e6e6e6"/>
<clipPath id="cp1"><rect x="140" y="75.7" width="513.6" height="240.2"/></clipPath><rect x="140" y="75.7" width="513.6" height="240.2" fill="#fef6ec"/><g clip-path="url(#cp1)"><text x="397.2" y="91.2" font-size="12" text-anchor="middle" fill="#3a3a3a" >残差正态性检验</text>
<rect x="204.04" y="166.61" width="13.6" height="11.19" fill="#38a1db"/>
<rect x="244.22" y="166.61" width="13.6" height="11.19" fill="#38a1db"/>
<rect x="264.31" y="166.61" width="13.6" height="11.19" fill="#38a1db"/>
<rect x="284.41" y="166.61" width="13.6" height="11.19" fill="#38a1db"/>
<rect x="324.58" y="166.61" width="13.6" height="11.19" fill="#38a1db"/>
<rect x="384.85" y="166.61" width="13.6" height="11.19" fill="#38a1db"/>
<rect x="404.94" y="166.61" width="13.6" height="11.19" fill="#38a1db"/>
<rect x="425.04" y="155.41" width="13.6" height="22.39" fill="#38a1db"/>
<rect x="445.12" y="110.64" width="13.6" height="67.16" fill="#38a1db"/>
<rect x="485.31" y="166.61" width="13.6" height="11.19" fill="#38a1db"/>
<rect x="505.39" y="121.84" width="13.6" height="55.96" fill="#38a1db"/>
<rect x="525.49" y="133.03" width="13.6" height="44.77" fill="#38a1db"/>
<rect x="545.58" y="155.41" width="13.6" height="22.39" fill="#38a1db"/>
<rect x="565.67" y="99.45" width="13.6" height="78.35" fill="#38a1db"/>
<rect x="585.76" y="144.22" width="13.6" height="33.58" fill="#38a1db"/>
<line x1="200.8" y1="99.45" x2="200.8" y2="177.8" stroke="#696b74" stroke-width="0.8" />
<line x1="200.8" y1="177.8" x2="602.6" y2="177.8" stroke="#696b74" stroke-width="0.8" />
<line x1="197.5" y1="177.8" x2="200.8" y2="177.8" stroke="#696b74" stroke-width="0.8" />
<text x="195.4" y="180.7" font-size="8.2" text-anchor="end" fill="#484848" >0</text>
<line x1="197.5" y1="166.61" x2="200.8" y2="166.61" stroke="#696b74" stroke-width="0.8" />
<text x="195.4" y="169.51" font-size="8.2" text-anchor="end" fill="#484848" >1</text>
<line x1="197.5" y1="155.41" x2="200.8" y2="155.41" stroke="#696b74" stroke-width="0.8" />
<text x="195.4" y="158.31" font-size="8.2" text-anchor="end" fill="#484848" >2</text>
<line x1="197.5" y1="144.22" x2="200.8" y2="144.22" stroke="#696b74" stroke-width="0.8" />
<text x="195.4" y="147.12" font-size="8.2" text-anchor="end" fill="#484848" >3</text>
<line x1="197.5" y1="133.03" x2="200.8" y2="133.03" stroke="#696b74" stroke-width="0.8" />
<text x="195.4" y="135.93" font-size="8.2" text-anchor="end" fill="#484848" >4</text>
<line x1="197.5" y1="121.84" x2="200.8" y2="121.84" stroke="#696b74" stroke-width="0.8" />
<text x="195.4" y="124.74" font-size="8.2" text-anchor="end" fill="#484848" >5</text>
<line x1="197.5" y1="110.64" x2="200.8" y2="110.64" stroke="#696b74" stroke-width="0.8" />
<text x="195.4" y="113.54" font-size="8.2" text-anchor="end" fill="#484848" >6</text>
<line x1="197.5" y1="99.45" x2="200.8" y2="99.45" stroke="#696b74" stroke-width="0.8" />
<text x="195.4" y="102.35" font-size="8.2" text-anchor="end" fill="#484848" >7</text>
<line x1="200.8" y1="177.8" x2="200.8" y2="181.1" stroke="#696b74" stroke-width="0.8" />
<line x1="220.89" y1="177.8" x2="220.89" y2="181.1" stroke="#696b74" stroke-width="0.8" />
<line x1="240.98" y1="177.8" x2="240.98" y2="181.1" stroke="#696b74" stroke-width="0.8" />
<line x1="261.07" y1="177.8" x2="261.07" y2="181.1" stroke="#696b74" stroke-width="0.8" />
<line x1="281.16" y1="177.8" x2="281.16" y2="181.1" stroke="#696b74" stroke-width="0.8" />
<line x1="301.25" y1="177.8" x2="301.25" y2="181.1" stroke="#696b74" stroke-width="0.8" />
<line x1="321.34" y1="177.8" x2="321.34" y2="181.1" stroke="#696b74" stroke-width="0.8" />
<line x1="341.43" y1="177.8" x2="341.43" y2="181.1" stroke="#696b74" stroke-width="0.8" />
<line x1="361.52" y1="177.8" x2="361.52" y2="181.1" stroke="#696b74" stroke-width="0.8" />
<line x1="381.61" y1="177.8" x2="381.61" y2="181.1" stroke="#696b74" stroke-width="0.8" />
<line x1="401.7" y1="177.8" x2="401.7" y2="181.1" stroke="#696b74" stroke-width="0.8" />
<line x1="421.79" y1="177.8" x2="421.79" y2="181.1" stroke="#696b74" stroke-width="0.8" />
<line x1="441.88" y1="177.8" x2="441.88" y2="181.1" stroke="#696b74" stroke-width="0.8" />
<line x1="461.97" y1="177.8" x2="461.97" y2="181.1" stroke="#696b74" stroke-width="0.8" />
<line x1="482.06" y1="177.8" x2="482.06" y2="181.1" stroke="#696b74" stroke-width="0.8" />
<line x1="502.15" y1="177.8" x2="502.15" y2="181.1" stroke="#696b74" stroke-width="0.8" />
<line x1="522.24" y1="177.8" x2="522.24" y2="181.1" stroke="#696b74" stroke-width="0.8" />
<line x1="542.33" y1="177.8" x2="542.33" y2="181.1" stroke="#696b74" stroke-width="0.8" />
<line x1="562.42" y1="177.8" x2="562.42" y2="181.1" stroke="#696b74" stroke-width="0.8" />
<line x1="582.51" y1="177.8" x2="582.51" y2="181.1" stroke="#696b74" stroke-width="0.8" />
<line x1="602.6" y1="177.8" x2="602.6" y2="181.1" stroke="#696b74" stroke-width="0.8" />
<text transform="translate(210.84,183.4) rotate(-45)" x="0" y="2.8" font-size="7.9" text-anchor="end" fill="#484848">[64.212229255 - 67.5801716121]</text>
<text transform="translate(230.94,183.4) rotate(-45)" x="0" y="2.8" font-size="7.9" text-anchor="end" fill="#484848">[60.8442868979 - 64.212229255)</text>
<text transform="translate(251.03,183.4) rotate(-45)" x="0" y="2.8" font-size="7.9" text-anchor="end" fill="#484848">[57.4763445408 - 60.8442868979)</text>
<text transform="translate(271.12,183.4) rotate(-45)" x="0" y="2.8" font-size="7.9" text-anchor="end" fill="#484848">[54.1084021837 - 57.4763445408)</text>
<text transform="translate(291.21,183.4) rotate(-45)" x="0" y="2.8" font-size="7.9" text-anchor="end" fill="#484848">[50.7404598266 - 54.1084021837)</text>
<text transform="translate(311.3,183.4) rotate(-45)" x="0" y="2.8" font-size="7.9" text-anchor="end" fill="#484848">[47.3725174695 - 50.7404598266)</text>
<text transform="translate(331.38,183.4) rotate(-45)" x="0" y="2.8" font-size="7.9" text-anchor="end" fill="#484848">[44.0045751124 - 47.3725174695)</text>
<text transform="translate(351.48,183.4) rotate(-45)" x="0" y="2.8" font-size="7.9" text-anchor="end" fill="#484848">[40.6366327553 - 44.0045751124)</text>
<text transform="translate(371.56,183.4) rotate(-45)" x="0" y="2.8" font-size="7.9" text-anchor="end" fill="#484848">[37.2686903982 - 40.6366327553)</text>
<text transform="translate(391.65,183.4) rotate(-45)" x="0" y="2.8" font-size="7.9" text-anchor="end" fill="#484848">[33.9007480411 - 37.2686903982)</text>
<text transform="translate(411.75,183.4) rotate(-45)" x="0" y="2.8" font-size="7.9" text-anchor="end" fill="#484848">[30.532805684 - 33.9007480411)</text>
<text transform="translate(431.84,183.4) rotate(-45)" x="0" y="2.8" font-size="7.9" text-anchor="end" fill="#484848">[27.1648633269 - 30.532805684)</text>
<text transform="translate(451.93,183.4) rotate(-45)" x="0" y="2.8" font-size="7.9" text-anchor="end" fill="#484848">[23.7969209698 - 27.1648633269)</text>
<text transform="translate(472.01,183.4) rotate(-45)" x="0" y="2.8" font-size="7.9" text-anchor="end" fill="#484848">[20.4289786127 - 23.7969209698)</text>
<text transform="translate(492.11,183.4) rotate(-45)" x="0" y="2.8" font-size="7.9" text-anchor="end" fill="#484848">[17.0610362556 - 20.4289786127)</text>
<text transform="translate(512.19,183.4) rotate(-45)" x="0" y="2.8" font-size="7.9" text-anchor="end" fill="#484848">[13.6930938985 - 17.0610362556)</text>
<text transform="translate(532.29,183.4) rotate(-45)" x="0" y="2.8" font-size="7.9" text-anchor="end" fill="#484848">[10.3251515414 - 13.6930938985)</text>
<text transform="translate(552.38,183.4) rotate(-45)" x="0" y="2.8" font-size="7.9" text-anchor="end" fill="#484848">[6.9572091843 - 10.3251515414)</text>
<text transform="translate(572.47,183.4) rotate(-45)" x="0" y="2.8" font-size="7.9" text-anchor="end" fill="#484848">[3.5892668272 - 6.9572091843)</text>
<text transform="translate(592.56,183.4) rotate(-45)" x="0" y="2.8" font-size="7.9" text-anchor="end" fill="#484848">[0.2213244701 - 3.5892668272)</text></g>
<clipPath id="cp2"><rect x="667.3" y="75.7" width="470.5" height="240.2"/></clipPath><rect x="667.3" y="75.7" width="470.5" height="240.2" fill="#fef6ec"/><g clip-path="url(#cp2)"><text x="903.2" y="91.2" font-size="12" text-anchor="middle" fill="#3a3a3a" >同方差检验</text>
<text x="728.4" y="88.8" font-size="8" text-anchor="middle" fill="#484848" >残差</text>
<text x="1087.4" y="284.2" font-size="8" text-anchor="start" fill="#484848" >预测值</text>
<line x1="728.4" y1="99.2" x2="728.4" y2="281.3" stroke="#696b74" stroke-width="0.8" />
<line x1="728.4" y1="281.3" x2="1076.7" y2="281.3" stroke="#696b74" stroke-width="0.8" />
<line x1="725.1" y1="281.3" x2="728.4" y2="281.3" stroke="#696b74" stroke-width="0.8" />
<text x="723" y="284.6" font-size="8.2" text-anchor="end" fill="#484848" >0</text>
<line x1="725.1" y1="255.29" x2="728.4" y2="255.29" stroke="#696b74" stroke-width="0.8" />
<text x="723" y="258.59" font-size="8.2" text-anchor="end" fill="#484848" >10</text>
<line x1="725.1" y1="229.27" x2="728.4" y2="229.27" stroke="#696b74" stroke-width="0.8" />
<text x="723" y="232.57" font-size="8.2" text-anchor="end" fill="#484848" >20</text>
<line x1="725.1" y1="203.26" x2="728.4" y2="203.26" stroke="#696b74" stroke-width="0.8" />
<text x="723" y="206.56" font-size="8.2" text-anchor="end" fill="#484848" >30</text>
<line x1="725.1" y1="177.24" x2="728.4" y2="177.24" stroke="#696b74" stroke-width="0.8" />
<text x="723" y="180.54" font-size="8.2" text-anchor="end" fill="#484848" >40</text>
<line x1="725.1" y1="151.23" x2="728.4" y2="151.23" stroke="#696b74" stroke-width="0.8" />
<text x="723" y="154.53" font-size="8.2" text-anchor="end" fill="#484848" >50</text>
<line x1="725.1" y1="125.21" x2="728.4" y2="125.21" stroke="#696b74" stroke-width="0.8" />
<text x="723" y="128.51" font-size="8.2" text-anchor="end" fill="#484848" >60</text>
<line x1="725.1" y1="99.2" x2="728.4" y2="99.2" stroke="#696b74" stroke-width="0.8" />
<text x="723" y="102.5" font-size="8.2" text-anchor="end" fill="#484848" >70</text>
<line x1="728.4" y1="281.3" x2="728.4" y2="284.6" stroke="#696b74" stroke-width="0.8" />
<text x="728.4" y="293.9" font-size="8.2" text-anchor="middle" fill="#484848" >570</text>
<line x1="786.45" y1="281.3" x2="786.45" y2="284.6" stroke="#696b74" stroke-width="0.8" />
<text x="786.45" y="293.9" font-size="8.2" text-anchor="middle" fill="#484848" >600</text>
<line x1="844.5" y1="281.3" x2="844.5" y2="284.6" stroke="#696b74" stroke-width="0.8" />
<text x="844.5" y="293.9" font-size="8.2" text-anchor="middle" fill="#484848" >630</text>
<line x1="902.55" y1="281.3" x2="902.55" y2="284.6" stroke="#696b74" stroke-width="0.8" />
<text x="902.55" y="293.9" font-size="8.2" text-anchor="middle" fill="#484848" >660</text>
<line x1="960.6" y1="281.3" x2="960.6" y2="284.6" stroke="#696b74" stroke-width="0.8" />
<text x="960.6" y="293.9" font-size="8.2" text-anchor="middle" fill="#484848" >690</text>
<line x1="1018.65" y1="281.3" x2="1018.65" y2="284.6" stroke="#696b74" stroke-width="0.8" />
<text x="1018.65" y="293.9" font-size="8.2" text-anchor="middle" fill="#484848" >720</text>
<line x1="1076.7" y1="281.3" x2="1076.7" y2="284.6" stroke="#696b74" stroke-width="0.8" />
<text x="1076.7" y="293.9" font-size="8.2" text-anchor="middle" fill="#484848" >750</text>
<circle cx="816.5" cy="142.4" r="3.3" fill="#38a1db"/>
<circle cx="859.4" cy="136.7" r="3.3" fill="#38a1db"/>
<circle cx="873" cy="128.9" r="3.3" fill="#38a1db"/>
<circle cx="872.1" cy="164.05" r="3.3" fill="#38a1db"/>
<circle cx="971.4" cy="105.8" r="3.3" fill="#38a1db"/>
<circle cx="835.5" cy="192.2" r="3.3" fill="#38a1db"/>
<circle cx="857" cy="204.9" r="3.3" fill="#38a1db"/>
<circle cx="881.4" cy="213.7" r="3.3" fill="#38a1db"/>
<circle cx="892.6" cy="215.3" r="3.3" fill="#38a1db"/>
<circle cx="860.5" cy="239.8" r="3.3" fill="#38a1db"/>
<circle cx="859.1" cy="243.3" r="3.3" fill="#38a1db"/>
<circle cx="875.4" cy="241.7" r="3.3" fill="#38a1db"/>
<circle cx="825.7" cy="246.6" r="3.3" fill="#38a1db"/>
<circle cx="762.4" cy="248.5" r="3.3" fill="#38a1db"/>
<circle cx="886.8" cy="250.6" r="3.3" fill="#38a1db"/>
<circle cx="874" cy="267.5" r="3.3" fill="#38a1db"/>
<circle cx="884.9" cy="268.6" r="3.3" fill="#38a1db"/>
<circle cx="892.6" cy="267.2" r="3.3" fill="#38a1db"/>
<circle cx="877.1" cy="276.4" r="3.3" fill="#38a1db"/>
<circle cx="879.5" cy="275.6" r="3.3" fill="#38a1db"/>
<circle cx="1009.6" cy="198.5" r="3.3" fill="#38a1db"/>
<circle cx="974.1" cy="203.4" r="3.3" fill="#38a1db"/>
<circle cx="981.7" cy="214.1" r="3.3" fill="#38a1db"/>
<circle cx="1000.2" cy="212.5" r="3.3" fill="#38a1db"/>
<circle cx="1011.6" cy="211.5" r="3.3" fill="#38a1db"/>
<circle cx="942.9" cy="218.2" r="3.3" fill="#38a1db"/>
<circle cx="1032" cy="228.4" r="3.3" fill="#38a1db"/>
<circle cx="1010.3" cy="238.6" r="3.3" fill="#38a1db"/>
<circle cx="1020.8" cy="244.9" r="3.3" fill="#38a1db"/>
<circle cx="932.3" cy="251.6" r="3.3" fill="#38a1db"/>
<circle cx="970.8" cy="258.4" r="3.3" fill="#38a1db"/>
<circle cx="976.5" cy="259.9" r="3.3" fill="#38a1db"/>
<circle cx="987.7" cy="265" r="3.3" fill="#38a1db"/>
<circle cx="991.2" cy="267.1" r="3.3" fill="#38a1db"/>
<circle cx="1009.7" cy="268.6" r="3.3" fill="#38a1db"/>
<circle cx="1011.6" cy="280.3" r="3.3" fill="#38a1db"/></g>
<clipPath id="cp3"><rect x="140" y="328.6" width="513.6" height="240.3"/></clipPath><rect x="140" y="328.6" width="513.6" height="240.3" fill="#fef6ec"/><g clip-path="url(#cp3)"><rect x="207.21" y="515.98" width="7.1" height="15.32" fill="#38a1db"/>
<rect x="217.93" y="519.81" width="7.1" height="11.49" fill="#38a1db"/>
<rect x="228.66" y="497.86" width="7.1" height="33.44" fill="#38a1db"/>
<rect x="239.38" y="443.99" width="7.1" height="87.31" fill="#38a1db"/>
<rect x="250.1" y="489.94" width="7.1" height="41.36" fill="#38a1db"/>
<rect x="260.83" y="496.33" width="7.1" height="34.97" fill="#38a1db"/>
<rect x="271.55" y="464.16" width="7.1" height="67.14" fill="#38a1db"/>
<rect x="282.27" y="480.12" width="7.1" height="51.18" fill="#38a1db"/>
<rect x="293" y="465.44" width="7.1" height="65.86" fill="#38a1db"/>
<rect x="303.72" y="493.01" width="7.1" height="38.29" fill="#38a1db"/>
<rect x="314.44" y="518.79" width="7.1" height="12.51" fill="#38a1db"/>
<rect x="325.16" y="389.62" width="7.1" height="141.68" fill="#38a1db"/>
<rect x="335.89" y="358.78" width="7.1" height="172.52" fill="#38a1db"/>
<rect x="346.61" y="530.74" width="7.1" height="0.56" fill="#38a1db"/>
<rect x="357.33" y="518.03" width="7.1" height="13.27" fill="#38a1db"/>
<rect x="368.06" y="510.88" width="7.1" height="20.42" fill="#38a1db"/>
<rect x="378.78" y="395.23" width="7.1" height="136.07" fill="#38a1db"/>
<rect x="389.5" y="465.95" width="7.1" height="65.35" fill="#38a1db"/>
<rect x="400.22" y="455.22" width="7.1" height="76.08" fill="#38a1db"/>
<rect x="410.95" y="469.85" width="7.1" height="61.45" fill="#38a1db"/>
<rect x="421.67" y="450.37" width="7.1" height="80.93" fill="#38a1db"/>
<rect x="432.39" y="502.76" width="7.1" height="28.54" fill="#38a1db"/>
<rect x="443.12" y="415.91" width="7.1" height="115.39" fill="#38a1db"/>
<rect x="453.84" y="499.64" width="7.1" height="31.66" fill="#38a1db"/>
<rect x="464.56" y="381.7" width="7.1" height="149.6" fill="#38a1db"/>
<rect x="475.29" y="463.14" width="7.1" height="68.16" fill="#38a1db"/>
<rect x="486.01" y="517.9" width="7.1" height="13.4" fill="#38a1db"/>
<rect x="496.73" y="509.19" width="7.1" height="22.11" fill="#38a1db"/>
<rect x="507.45" y="467.07" width="7.1" height="64.23" fill="#38a1db"/>
<rect x="518.18" y="518.08" width="7.1" height="13.22" fill="#38a1db"/>
<rect x="528.9" y="519.63" width="7.1" height="11.67" fill="#38a1db"/>
<rect x="539.62" y="456.5" width="7.1" height="74.8" fill="#38a1db"/>
<rect x="550.35" y="494.54" width="7.1" height="36.76" fill="#38a1db"/>
<rect x="561.07" y="501.69" width="7.1" height="29.61" fill="#38a1db"/>
<rect x="571.79" y="527.11" width="7.1" height="4.19" fill="#38a1db"/>
<rect x="582.52" y="526.25" width="7.1" height="5.05" fill="#38a1db"/>
<rect x="593.24" y="491.09" width="7.1" height="40.21" fill="#38a1db"/>
<line x1="205.55" y1="352.6" x2="205.55" y2="531.3" stroke="#696b74" stroke-width="0.8" />
<line x1="205.55" y1="531.3" x2="602.3" y2="531.3" stroke="#696b74" stroke-width="0.8" />
<line x1="202.25" y1="531.3" x2="205.55" y2="531.3" stroke="#696b74" stroke-width="0.8" />
<text x="200.15" y="534.2" font-size="8.2" text-anchor="end" fill="#484848" >0</text>
<line x1="202.25" y1="505.77" x2="205.55" y2="505.77" stroke="#696b74" stroke-width="0.8" />
<text x="200.15" y="508.67" font-size="8.2" text-anchor="end" fill="#484848" >10</text>
<line x1="202.25" y1="480.24" x2="205.55" y2="480.24" stroke="#696b74" stroke-width="0.8" />
<text x="200.15" y="483.14" font-size="8.2" text-anchor="end" fill="#484848" >20</text>
<line x1="202.25" y1="454.71" x2="205.55" y2="454.71" stroke="#696b74" stroke-width="0.8" />
<text x="200.15" y="457.61" font-size="8.2" text-anchor="end" fill="#484848" >30</text>
<line x1="202.25" y1="429.19" x2="205.55" y2="429.19" stroke="#696b74" stroke-width="0.8" />
<text x="200.15" y="432.09" font-size="8.2" text-anchor="end" fill="#484848" >40</text>
<line x1="202.25" y1="403.66" x2="205.55" y2="403.66" stroke="#696b74" stroke-width="0.8" />
<text x="200.15" y="406.56" font-size="8.2" text-anchor="end" fill="#484848" >50</text>
<line x1="202.25" y1="378.13" x2="205.55" y2="378.13" stroke="#696b74" stroke-width="0.8" />
<text x="200.15" y="381.03" font-size="8.2" text-anchor="end" fill="#484848" >60</text>
<line x1="202.25" y1="352.6" x2="205.55" y2="352.6" stroke="#696b74" stroke-width="0.8" />
<text x="200.15" y="355.5" font-size="8.2" text-anchor="end" fill="#484848" >70</text>
<line x1="205.55" y1="531.3" x2="205.55" y2="534.6" stroke="#696b74" stroke-width="0.8" />
<line x1="227" y1="531.3" x2="227" y2="534.6" stroke="#696b74" stroke-width="0.8" />
<line x1="248.44" y1="531.3" x2="248.44" y2="534.6" stroke="#696b74" stroke-width="0.8" />
<line x1="269.89" y1="531.3" x2="269.89" y2="534.6" stroke="#696b74" stroke-width="0.8" />
<line x1="291.33" y1="531.3" x2="291.33" y2="534.6" stroke="#696b74" stroke-width="0.8" />
<line x1="312.78" y1="531.3" x2="312.78" y2="534.6" stroke="#696b74" stroke-width="0.8" />
<line x1="334.23" y1="531.3" x2="334.23" y2="534.6" stroke="#696b74" stroke-width="0.8" />
<line x1="355.67" y1="531.3" x2="355.67" y2="534.6" stroke="#696b74" stroke-width="0.8" />
<line x1="377.12" y1="531.3" x2="377.12" y2="534.6" stroke="#696b74" stroke-width="0.8" />
<line x1="398.56" y1="531.3" x2="398.56" y2="534.6" stroke="#696b74" stroke-width="0.8" />
<line x1="420.01" y1="531.3" x2="420.01" y2="534.6" stroke="#696b74" stroke-width="0.8" />
<line x1="441.46" y1="531.3" x2="441.46" y2="534.6" stroke="#696b74" stroke-width="0.8" />
<line x1="462.9" y1="531.3" x2="462.9" y2="534.6" stroke="#696b74" stroke-width="0.8" />
<line x1="484.35" y1="531.3" x2="484.35" y2="534.6" stroke="#696b74" stroke-width="0.8" />
<line x1="505.79" y1="531.3" x2="505.79" y2="534.6" stroke="#696b74" stroke-width="0.8" />
<line x1="527.24" y1="531.3" x2="527.24" y2="534.6" stroke="#696b74" stroke-width="0.8" />
<line x1="548.69" y1="531.3" x2="548.69" y2="534.6" stroke="#696b74" stroke-width="0.8" />
<line x1="570.13" y1="531.3" x2="570.13" y2="534.6" stroke="#696b74" stroke-width="0.8" />
<line x1="591.58" y1="531.3" x2="591.58" y2="534.6" stroke="#696b74" stroke-width="0.8" />
<line x1="602.3" y1="531.3" x2="602.3" y2="534.6" stroke="#696b74" stroke-width="0.8" />
<text x="210.91" y="543.9" font-size="8.2" text-anchor="middle" fill="#484848" >1</text>
<text x="232.36" y="543.9" font-size="8.2" text-anchor="middle" fill="#484848" >3</text>
<text x="253.8" y="543.9" font-size="8.2" text-anchor="middle" fill="#484848" >5</text>
<text x="275.25" y="543.9" font-size="8.2" text-anchor="middle" fill="#484848" >7</text>
<text x="296.7" y="543.9" font-size="8.2" text-anchor="middle" fill="#484848" >9</text>
<text x="318.14" y="543.9" font-size="8.2" text-anchor="middle" fill="#484848" >11</text>
<text x="339.59" y="543.9" font-size="8.2" text-anchor="middle" fill="#484848" >13</text>
<text x="361.03" y="543.9" font-size="8.2" text-anchor="middle" fill="#484848" >15</text>
<text x="382.48" y="543.9" font-size="8.2" text-anchor="middle" fill="#484848" >17</text>
<text x="403.92" y="543.9" font-size="8.2" text-anchor="middle" fill="#484848" >19</text>
<text x="425.37" y="543.9" font-size="8.2" text-anchor="middle" fill="#484848" >21</text>
<text x="446.82" y="543.9" font-size="8.2" text-anchor="middle" fill="#484848" >23</text>
<text x="468.26" y="543.9" font-size="8.2" text-anchor="middle" fill="#484848" >25</text>
<text x="489.71" y="543.9" font-size="8.2" text-anchor="middle" fill="#484848" >27</text>
<text x="511.15" y="543.9" font-size="8.2" text-anchor="middle" fill="#484848" >29</text>
<text x="532.6" y="543.9" font-size="8.2" text-anchor="middle" fill="#484848" >31</text>
<text x="554.05" y="543.9" font-size="8.2" text-anchor="middle" fill="#484848" >33</text>
<text x="575.49" y="543.9" font-size="8.2" text-anchor="middle" fill="#484848" >35</text>
<text x="596.94" y="543.9" font-size="8.2" text-anchor="middle" fill="#484848" >37</text>
<line x1="205.02" y1="358.78" x2="594" y2="358.78" stroke="#38a1db" stroke-width="0.9" stroke-dasharray="2.7 1.26"/>
<circle cx="205.55" cy="358.78" r="2.7" fill="#38a1db"/>
<path d="M602.1 358.78 L591.6 355.28 L594 358.78 L591.6 362.28Z" fill="#38a1db"/>
<text x="605.6" y="360.98" font-size="8.2" text-anchor="start" fill="#3c3c3c" >67.58</text>
<path d="M330.55 344.02 A10 10 0 1 1 348.62 344.02 C346.05 349.44 339.59 351.78 339.59 358.78 C339.59 351.78 333.12 349.44 330.55 344.02Z" fill="#38a1db"/>
<text x="339.59" y="344.33" font-size="8.25" text-anchor="middle" fill="#3c3c3c" >67.58017161212992</text>
<path d="M341.28 515.98 A10 10 0 1 1 359.35 515.98 C356.77 521.4 350.31 523.74 350.31 530.74 C350.31 523.74 343.85 521.4 341.28 515.98Z" fill="#38a1db"/>
<text x="350.31" y="516.29" font-size="8.25" text-anchor="middle" fill="#3c3c3c" >0.2213244701426902</text>
<text x="397.6" y="343.6" font-size="12" text-anchor="middle" fill="#3a3a3a" >残差分布图</text></g>
<clipPath id="cp4"><rect x="667.3" y="328.6" width="470.5" height="240.3"/></clipPath><rect x="667.3" y="328.6" width="470.5" height="240.3" fill="#fef6ec"/><g clip-path="url(#cp4)"><text x="903.8" y="343.6" font-size="12" text-anchor="middle" fill="#3a3a3a" >真实值vs预测值</text>
<text x="733.5" y="342.2" font-size="8" text-anchor="middle" fill="#484848" >预测值</text>
<text x="1101.6" y="534.2" font-size="8" text-anchor="start" fill="#484848" >真实值</text>
<line x1="733.5" y1="352.6" x2="733.5" y2="531.3" stroke="#696b74" stroke-width="0.8" />
<line x1="733.5" y1="531.3" x2="1091.3" y2="531.3" stroke="#696b74" stroke-width="0.8" />
<line x1="730.2" y1="531.3" x2="733.5" y2="531.3" stroke="#696b74" stroke-width="0.8" />
<text x="728.1" y="534.8" font-size="8.2" text-anchor="end" fill="#484848" >570</text>
<line x1="730.2" y1="501.52" x2="733.5" y2="501.52" stroke="#696b74" stroke-width="0.8" />
<text x="728.1" y="505.02" font-size="8.2" text-anchor="end" fill="#484848" >600</text>
<line x1="730.2" y1="471.73" x2="733.5" y2="471.73" stroke="#696b74" stroke-width="0.8" />
<text x="728.1" y="475.23" font-size="8.2" text-anchor="end" fill="#484848" >630</text>
<line x1="730.2" y1="441.95" x2="733.5" y2="441.95" stroke="#696b74" stroke-width="0.8" />
<text x="728.1" y="445.45" font-size="8.2" text-anchor="end" fill="#484848" >660</text>
<line x1="730.2" y1="412.17" x2="733.5" y2="412.17" stroke="#696b74" stroke-width="0.8" />
<text x="728.1" y="415.67" font-size="8.2" text-anchor="end" fill="#484848" >690</text>
<line x1="730.2" y1="382.38" x2="733.5" y2="382.38" stroke="#696b74" stroke-width="0.8" />
<text x="728.1" y="385.88" font-size="8.2" text-anchor="end" fill="#484848" >720</text>
<line x1="730.2" y1="352.6" x2="733.5" y2="352.6" stroke="#696b74" stroke-width="0.8" />
<text x="728.1" y="356.1" font-size="8.2" text-anchor="end" fill="#484848" >750</text>
<line x1="733.5" y1="531.3" x2="733.5" y2="534.6" stroke="#696b74" stroke-width="0.8" />
<text x="733.5" y="543.9" font-size="8.2" text-anchor="middle" fill="#484848" >550</text>
<line x1="805.06" y1="531.3" x2="805.06" y2="534.6" stroke="#696b74" stroke-width="0.8" />
<text x="805.06" y="543.9" font-size="8.2" text-anchor="middle" fill="#484848" >600</text>
<line x1="876.62" y1="531.3" x2="876.62" y2="534.6" stroke="#696b74" stroke-width="0.8" />
<text x="876.62" y="543.9" font-size="8.2" text-anchor="middle" fill="#484848" >650</text>
<line x1="948.18" y1="531.3" x2="948.18" y2="534.6" stroke="#696b74" stroke-width="0.8" />
<text x="948.18" y="543.9" font-size="8.2" text-anchor="middle" fill="#484848" >700</text>
<line x1="1019.74" y1="531.3" x2="1019.74" y2="534.6" stroke="#696b74" stroke-width="0.8" />
<text x="1019.74" y="543.9" font-size="8.2" text-anchor="middle" fill="#484848" >750</text>
<line x1="1091.3" y1="531.3" x2="1091.3" y2="534.6" stroke="#696b74" stroke-width="0.8" />
<text x="1091.3" y="543.9" font-size="8.2" text-anchor="middle" fill="#484848" >800</text>
<circle cx="911.9" cy="401.4" r="3.3" fill="#38a1db"/>
<circle cx="900.5" cy="405.3" r="3.3" fill="#38a1db"/>
<circle cx="896.3" cy="426.9" r="3.3" fill="#38a1db"/>
<circle cx="1015.1" cy="375.6" r="3.3" fill="#38a1db"/>
<circle cx="957.8" cy="381.6" r="3.3" fill="#38a1db"/>
<circle cx="970.6" cy="386.2" r="3.3" fill="#38a1db"/>
<circle cx="976.5" cy="387.2" r="3.3" fill="#38a1db"/>
<circle cx="993.6" cy="386.7" r="3.3" fill="#38a1db"/>
<circle cx="1009.2" cy="386.2" r="3.3" fill="#38a1db"/>
<circle cx="1015.1" cy="387.3" r="3.3" fill="#38a1db"/>
<circle cx="924.9" cy="391.9" r="3.3" fill="#38a1db"/>
<circle cx="963.7" cy="396.5" r="3.3" fill="#38a1db"/>
<circle cx="961.9" cy="398.5" r="3.3" fill="#38a1db"/>
<circle cx="933.4" cy="404.2" r="3.3" fill="#38a1db"/>
<circle cx="953.5" cy="407.1" r="3.3" fill="#38a1db"/>
<circle cx="1038" cy="406.8" r="3.3" fill="#38a1db"/>
<circle cx="955" cy="421.5" r="3.3" fill="#38a1db"/>
<circle cx="750.1" cy="486.4" r="3.3" fill="#38a1db"/>
<circle cx="778.7" cy="464.4" r="3.3" fill="#38a1db"/>
<circle cx="784.4" cy="457.2" r="3.3" fill="#38a1db"/>
<circle cx="803.1" cy="457.7" r="3.3" fill="#38a1db"/>
<circle cx="791.7" cy="476.6" r="3.3" fill="#38a1db"/>
<circle cx="814.5" cy="465.5" r="3.3" fill="#38a1db"/>
<circle cx="814.5" cy="481.8" r="3.3" fill="#38a1db"/>
<circle cx="804.5" cy="514.2" r="3.3" fill="#38a1db"/>
<circle cx="837.4" cy="464.4" r="3.3" fill="#38a1db"/>
<circle cx="861.8" cy="450.4" r="3.3" fill="#38a1db"/>
<circle cx="861.8" cy="456.8" r="3.3" fill="#38a1db"/>
<circle cx="868.9" cy="455.3" r="3.3" fill="#38a1db"/>
<circle cx="870.5" cy="451.2" r="3.3" fill="#38a1db"/>
<circle cx="876.2" cy="454.1" r="3.3" fill="#38a1db"/>
<circle cx="881.7" cy="463.9" r="3.3" fill="#38a1db"/>
<circle cx="890.4" cy="447.3" r="3.3" fill="#38a1db"/>
<circle cx="892" cy="456" r="3.3" fill="#38a1db"/>
<circle cx="911.9" cy="452.8" r="3.3" fill="#38a1db"/>
<circle cx="918.7" cy="447.3" r="3.3" fill="#38a1db"/></g>
</svg>
<div class="a" style="left:138.3px;top:33.9px;font-size:10.67px;line-height:15px;color:#262626;">模型诊断图<span style="margin-left:-0.3px;margin-right:-0.2px">:</span>回归评估</div>
<div class="a" style="left:1091.3px;top:579.7px;width:39.6px;height:21.3px;border-radius:2.7px;background:#1890ff;color:#fff;font-size:9.33px;line-height:21.3px;text-align:center;">关闭</div>
</div></body></html>
